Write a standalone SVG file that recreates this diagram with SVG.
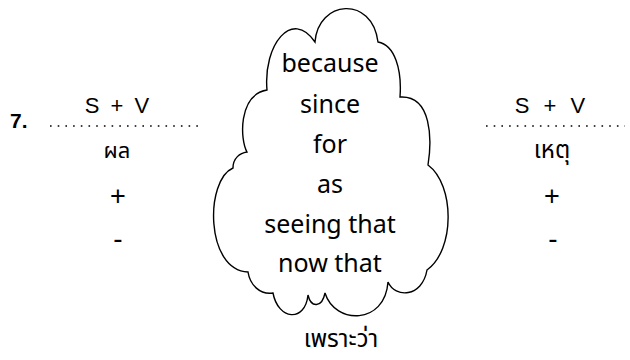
<svg xmlns="http://www.w3.org/2000/svg" width="630" height="360" viewBox="0 0 630 360">
<style>
.lat{font-family:"Liberation Sans",Arial,sans-serif;fill:#000}
.sv{font-size:22px;word-spacing:5px;text-anchor:middle}
.dots{stroke:#000;stroke-width:1.6;stroke-dasharray:1.6 6.1;fill:none}
.th{font-family:"Noto Sans Thai","Noto Sans",sans-serif;font-size:22px;text-anchor:middle;fill:#000}
.plus{font-size:27px;text-anchor:middle}
.minus{font-size:28px;text-anchor:middle}
.cw{font-family:"Noto Sans",sans-serif;font-size:25px;text-anchor:middle;fill:#000}
.cloud{fill:#fff;stroke:#000;stroke-width:1.4}
</style>
<rect width="630" height="360" fill="#fff"/>
<g id="number">
<text class="lat" x="10" y="128" style="font-size:21px;font-weight:bold">7.</text>
</g>
<g id="left-clause">
<text class="lat sv" x="117" y="113">S + V</text>
<line class="dots" x1="50" y1="126" x2="198" y2="126"/>
<text class="th" x="117" y="158">ผล</text>
<text class="lat plus" x="118" y="205">+</text>
<text class="lat minus" x="118" y="248">-</text>
</g>
<g id="cloud-node">
<path class="cloud" d="M 267,90 C 263,45 292,8 315,42 C 318,0 372,-5 378,42 C 395,45 402,70 400,97 C 432,95 432,140 428,165 C 455,185 455,250 427,270 C 422,298 395,298 388,282 C 385,325 335,325 325,293 C 322,308 311,308 308,295 C 305,323 278,320 273,293 C 260,295 250,285 248,272 C 205,270 205,180 233,168 C 233,158 240,153 247,152 C 240,140 238,95 267,90 Z"/>
<text class="cw" x="330" y="72">because</text>
<text class="cw" x="330" y="113">since</text>
<text class="cw" x="330" y="153">for</text>
<text class="cw" x="330" y="193">as</text>
<text class="cw" x="330" y="233">seeing that</text>
<text class="cw" x="330" y="272">now that</text>
<text class="th" x="341" y="347" style="font-size:24px">เพราะว่า</text>
</g>
<g id="right-clause">
<text class="lat sv" x="550" y="113" style="word-spacing:8px">S + V</text>
<line class="dots" x1="486" y1="126" x2="625" y2="126"/>
<text class="th" x="552" y="158" style="font-size:24px">เหตุ</text>
<text class="lat plus" x="552" y="205">+</text>
<text class="lat minus" x="553" y="248">-</text>
</g>
<g id="connectors"></g>
</svg>
